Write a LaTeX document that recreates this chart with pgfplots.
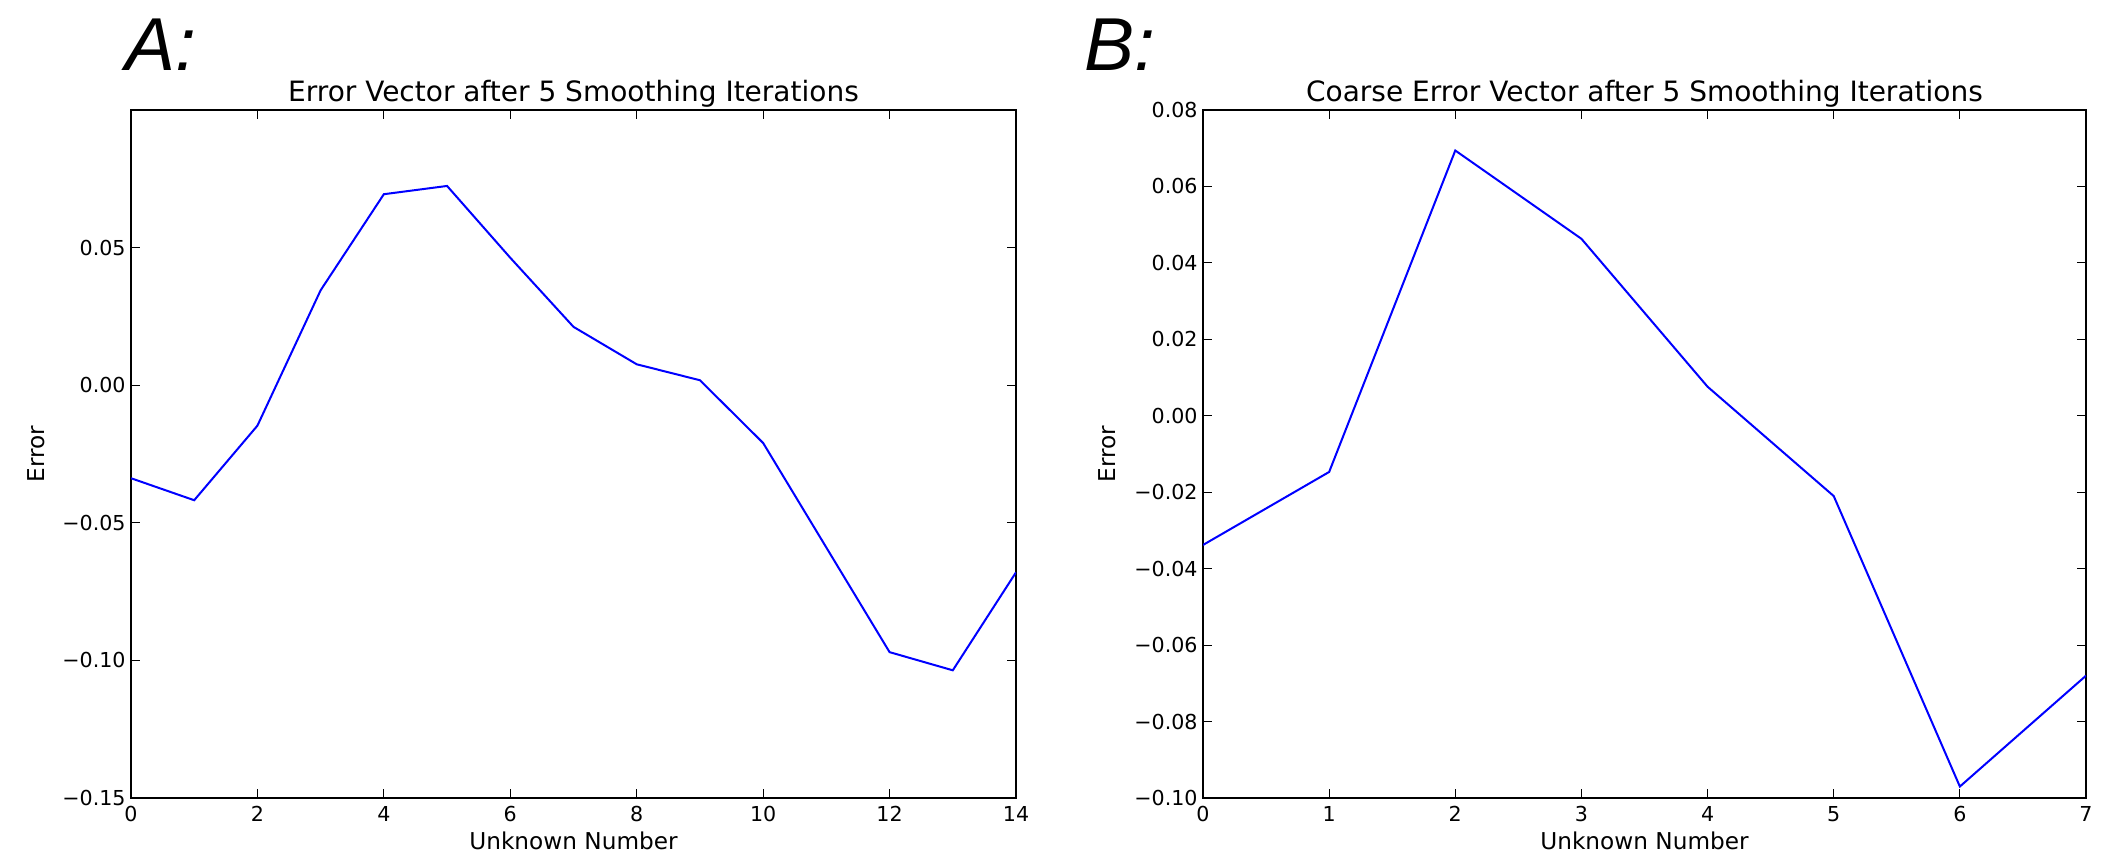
\documentclass[border=0pt]{standalone}
\usepackage{fontspec}
\setmainfont{DejaVu Sans}
\newfontfamily\panelfont{Liberation Sans}
\usepackage{pgfplots}
\usepackage{pgfplotstable}
\pgfplotsset{compat=1.18}

% fine grid error after smoothing (15 unknowns)
\pgfplotstableread{
x   e
0   -0.0338
1   -0.0418
2   -0.0147
3    0.0345
4    0.0694
5    0.0724
6    0.0463
7    0.0212
8    0.0076
9    0.0018
10  -0.0210
11  -0.0590
12  -0.0970
13  -0.1036
14  -0.0680
}\finegrid

% coarse grid error (every second unknown)
\pgfplotstableread{
x   e
0   -0.0338
1   -0.0147
2    0.0694
3    0.0463
4    0.0076
5   -0.0210
6   -0.0970
7   -0.0680
}\coarsegrid

\pgfplotsset{
  mpl/.style={
    scale only axis,
    anchor=south west,
    width=442pt, height=344pt,
    axis line style={black, line width=1pt},
    tick align=inside,
    major tick length=4.5pt,
    tick style={black, line width=0.6pt},
    scaled ticks=false,
    /pgf/number format/assume math mode=true,
    tick label style={font=\fontsize{10.3}{12}\selectfont},
    yticklabel style={inner xsep=2.5pt},
    xticklabel style={inner ysep=4pt},
    label style={font=\fontsize{11.6}{13}\selectfont},
    title style={font=\fontsize{14}{16}\selectfont, at={(axis description cs:0.5,1)}, anchor=base, yshift=-1.8pt},
    xlabel style={at={(axis description cs:0.5,-0.0625)}, anchor=center},
    xlabel={Unknown Number},
    ylabel={Error},
  },
  errline/.style={color=blue, line width=1pt, mark=none},
}

\begin{document}
\begin{tikzpicture}
\path[use as bounding box] (0,0) rectangle (1063.5pt,428.5pt);

\node[anchor=base west, inner sep=0pt, font=\panelfont\itshape\fontsize{37.5}{40}\selectfont] at (62.4pt,393pt) {A:};
\node[anchor=base west, inner sep=0pt, font=\panelfont\itshape\fontsize{37.5}{40}\selectfont] at (542pt,393pt) {B:};

\begin{axis}[mpl,
  at={(65.5pt,29.5pt)},
  width=442.5pt,
  title={Error Vector after 5 Smoothing Iterations},
  ylabel style={at={(axis description cs:-0.107,0.5)}, anchor=center},
  xmin=0, xmax=14, xtick={0,2,...,14},
  ymin=-0.15, ymax=0.1,
  ytick={-0.15,-0.1,-0.05,0,0.05},
  yticklabels={−0.15,−0.10,−0.05,0.00,0.05},
]
\addplot[errline] table[x=x, y=e] {\finegrid};
\end{axis}

\begin{axis}[mpl,
  at={(601.5pt,29.5pt)},
  width=441.5pt,
  title={Coarse Error Vector after 5 Smoothing Iterations},
  ylabel style={at={(axis description cs:-0.109,0.5)}, anchor=center},
  xmin=0, xmax=7, xtick={0,1,...,7},
  ymin=-0.1, ymax=0.08,
  ytick={-0.1,-0.08,-0.06,-0.04,-0.02,0,0.02,0.04,0.06,0.08},
  yticklabels={−0.10,−0.08,−0.06,−0.04,−0.02,0.00,0.02,0.04,0.06,0.08},
]
\addplot[errline] table[x=x, y=e] {\coarsegrid};
\end{axis}
\end{tikzpicture}
\end{document}
